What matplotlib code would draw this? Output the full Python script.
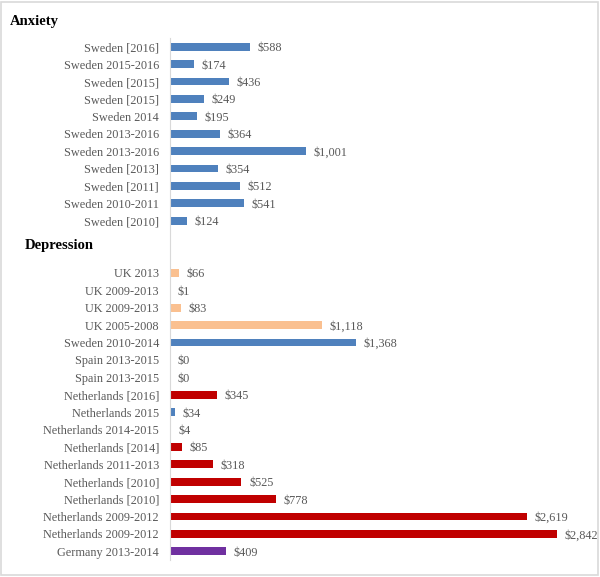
import matplotlib
matplotlib.use("Agg")
import matplotlib.pyplot as plt
from matplotlib.patches import Rectangle

# anxiety studies (all Sweden)
anx_labels = ["Sweden [2016]", "Sweden 2015-2016", "Sweden [2015]", "Sweden [2015]",
              "Sweden 2014", "Sweden 2013-2016", "Sweden 2013-2016", "Sweden [2013]",
              "Sweden [2011]", "Sweden 2010-2011", "Sweden [2010]"]
anx_values = [588, 174, 436, 249, 195, 364, 1001, 354, 512, 541, 124]
anx_country = ["Sweden"] * 11

# depression studies
dep_labels = ["UK 2013", "UK 2009-2013", "UK 2009-2013", "UK 2005-2008",
              "Sweden 2010-2014", "Spain 2013-2015", "Spain 2013-2015",
              "Netherlands [2016]", "Netherlands 2015", "Netherlands 2014-2015",
              "Netherlands [2014]", "Netherlands 2011-2013", "Netherlands [2010]",
              "Netherlands [2010]", "Netherlands 2009-2012", "Netherlands 2009-2012",
              "Germany 2013-2014"]
dep_values = [66, 1, 83, 1118, 1368, 0, 0, 345, 34, 4, 85, 318, 525, 778, 2619, 2842, 409]
dep_country = ["UK", "UK", "UK", "UK", "Sweden", "Spain", "Spain",
               "Netherlands", "Sweden", "Netherlands", "Netherlands", "Netherlands",
               "Netherlands", "Netherlands", "Netherlands", "Netherlands", "Germany"]

colors = {"Sweden": "#4F81BD", "UK": "#FAC090", "Spain": "#A5A5A5",
          "Netherlands": "#C00000", "Germany": "#7030A0"}

gap = 2
labels = anx_labels + [""] * gap + dep_labels
values = anx_values + [0] * gap + dep_values
country = anx_country + ["Spain"] * gap + dep_country
rows = list(range(len(labels)))

plt.rcParams["font.family"] = ["Liberation Serif", "DejaVu Serif"]

fig = plt.figure(figsize=(6, 5.77), dpi=100)
fig.patches.append(Rectangle((0.002, 0.004), 0.995, 0.993, transform=fig.transFigure,
                             fill=False, edgecolor="#D9D9D9", linewidth=1.2))

ax = fig.add_axes([170 / 600, 1 - 560 / 577, 420 / 600, 522 / 577])
ax.barh(rows, values, height=0.45, color=[colors[c] for c in country])
ax.set_xlim(0, 3085)
ax.set_ylim(len(labels) - 0.5, -0.5)
ax.set_yticks(rows)
ax.set_yticklabels(labels, color="#595959", fontsize=8.8)
ax.tick_params(axis="y", length=0, pad=8)
ax.set_xticks([])
for s in ["top", "right", "bottom"]:
    ax.spines[s].set_visible(False)
ax.spines["left"].set_color("#D9D9D9")

for r, v, lab in zip(rows, values, labels):
    if lab == "":
        continue
    ax.annotate("${:,.0f}".format(v), (v, r), xytext=(5.5, 0), textcoords="offset points",
                va="center_baseline", ha="left", fontsize=8.8, color="#595959")

fig.text(10 / 600, 1 - 21 / 577, "Anxiety", fontsize=10.5, fontweight="bold", va="center")
fig.text(25 / 600, 1 - 245 / 577, "Depression", fontsize=10.5, fontweight="bold", va="center")

fig.savefig("out.png", dpi=100)
